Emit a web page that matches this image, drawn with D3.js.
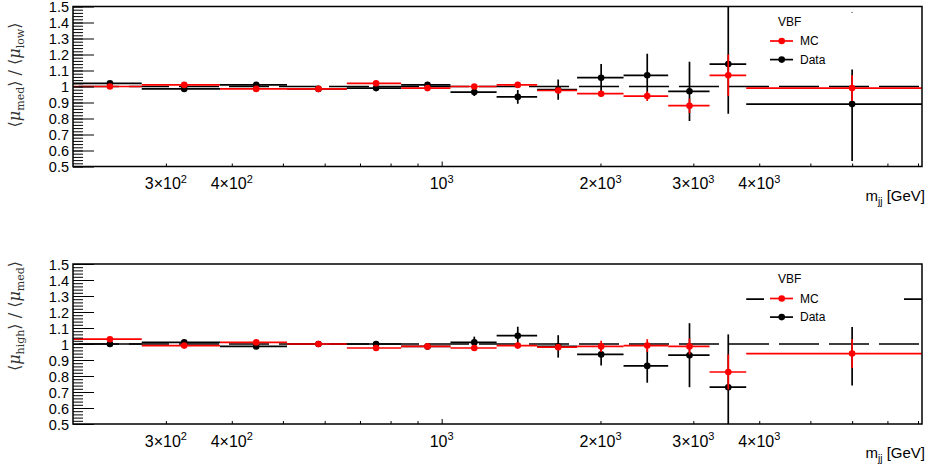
<!DOCTYPE html>
<html>
<head>
<meta charset="utf-8">
<script src="https://cdn.jsdelivr.net/npm/d3@7"></script>
<style>
  body { margin: 0; background: #fff; }
  text { font-family: "Liberation Sans", Arial, sans-serif; }
</style>
</head>
<body>
<div id="chart"></div>
<script>
// m_jj bins [GeV]
const binLow = [200, 270, 380, 509, 661, 838, 1039, 1271, 1517, 1806, 2212, 2688, 3220, 3779];
const binHigh = [270, 380, 509, 661, 838, 1039, 1271, 1517, 1806, 2212, 2688, 3220, 3779, 8140];
const binMean = [235, 325, 445, 584, 751, 940, 1153, 1394, 1663, 2006, 2453, 2950, 3494, 6000];

// <mu_med> / <mu_low>
const mcMedLow = [1.0, 1.01, 0.985, 0.985, 1.02, 0.99, 1.0, 1.01, 0.975, 0.955, 0.94, 0.88, 1.07, 0.99];
const mcMedLowErr = [0.004, 0.005, 0.005, 0.006, 0.007, 0.008, 0.01, 0.012, 0.015, 0.02, 0.03, 0.045, 0.13, 0.08];
const dataMedLow = [1.02, 0.985, 1.01, 0.985, 0.99, 1.01, 0.965, 0.935, 0.98, 1.055, 1.07, 0.97, 1.14, 0.89];
const dataMedLowErrDown = [0.006, 0.007, 0.008, 0.01, 0.012, 0.016, 0.025, 0.043, 0.063, 0.085, 0.135, 0.185, 0.31, 0.355];
const dataMedLowErrUp = [0.006, 0.007, 0.008, 0.01, 0.012, 0.016, 0.025, 0.043, 0.063, 0.085, 0.135, 0.185, 0.4, 0.575];

// <mu_high> / <mu_med>
const mcHighMed = [1.03, 0.99, 1.01, 1.0, 0.975, 0.985, 0.975, 0.99, 0.98, 0.985, 0.99, 0.985, 0.825, 0.94];
const mcHighMedErr = [0.004, 0.005, 0.005, 0.006, 0.007, 0.008, 0.01, 0.012, 0.015, 0.035, 0.04, 0.05, 0.11, 0.09];
const dataHighMed = [1.0, 1.01, 0.985, 1.0, 1.0, 0.985, 1.01, 1.052, 0.985, 0.935, 0.863, 0.93, 0.73, 1.28];
const dataHighMedErrDown = [0.005, 0.006, 0.008, 0.01, 0.012, 0.02, 0.036, 0.056, 0.07, 0.07, 0.105, 0.2, 0.33, 0.54];
const dataHighMedErrUp = [0.005, 0.006, 0.008, 0.01, 0.012, 0.02, 0.036, 0.056, 0.07, 0.07, 0.105, 0.2, 0.33, 0.15];

// axis ticks
const xMinorTicks = [300, 400, 500, 600, 700, 800, 900, 2000, 3000, 4000, 5000, 6000, 7000, 8000];
const xMajorTicks = [1000];
const xLabelValues = [300, 400, 1000, 2000, 3000, 4000];
const xLabelMantissa = ["3×", "4×", "", "2×", "3×", "4×"];
const xLabelExponent = ["2", "2", "3", "3", "3", "3"];
const yMajorTicks = [0.5, 0.6, 0.7, 0.8, 0.9, 1.0, 1.1, 1.2, 1.3, 1.4, 1.5];
const yTickLabels = ["0.5", "0.6", "0.7", "0.8", "0.9", "1", "1.1", "1.2", "1.3", "1.4", "1.5"];
const yMinorTicks = d3.range(0, 51).map((i) => 0.5 + i * 0.02);

const legendLabels = ["MC", "Data"];
const legendColors = ["#ff0000", "#000000"];

const width = 928;
const height = 473;
const left = 73;
const right = 922;

const panels = [
  {
    top: 6.5, bottom: 166.5,
    mc: mcMedLow, mcErr: mcMedLowErr,
    data: dataMedLow, dataDown: dataMedLowErrDown, dataUp: dataMedLowErrUp,
    num: "med", den: "low", titleY: 75,
  },
  {
    top: 264, bottom: 424,
    mc: mcHighMed, mcErr: mcHighMedErr,
    data: dataHighMed, dataDown: dataHighMedErrDown, dataUp: dataHighMedErrUp,
    num: "high", den: "med", titleY: 316,
  },
];

const svg = d3
  .select("#chart")
  .append("svg")
  .attr("width", width)
  .attr("height", height);

const x = d3.scaleLog().domain([200, 8140]).range([left, right]);

panels.forEach((p, k) => {
  const y = d3.scaleLinear().domain([0.5, 1.5]).range([p.bottom, p.top]);
  const g = svg.append("g");

  g.append("clipPath")
    .attr("id", "clip" + k)
    .append("rect")
    .attr("x", left)
    .attr("y", p.top)
    .attr("width", right - left)
    .attr("height", p.bottom - p.top);

  const plot = g.append("g").attr("clip-path", `url(#clip${k})`);

  // reference line at 1
  plot
    .append("line")
    .attr("x1", left)
    .attr("x2", right)
    .attr("y1", y(1))
    .attr("y2", y(1))
    .attr("stroke", "#000")
    .attr("stroke-width", 1.5)
    .attr("stroke-dasharray", "40,10")
    .attr("stroke-dashoffset", 44);

  const drawSeries = (vals, down, up, color) => {
    const s = plot.append("g").attr("stroke", color).attr("stroke-width", 1.7);
    s.selectAll("line.h")
      .data(vals)
      .enter()
      .append("line")
      .attr("class", "h")
      .attr("x1", (d, i) => x(binLow[i]))
      .attr("x2", (d, i) => x(binHigh[i]))
      .attr("y1", (d) => y(d))
      .attr("y2", (d) => y(d));
    s.selectAll("line.v")
      .data(vals)
      .enter()
      .append("line")
      .attr("class", "v")
      .attr("x1", (d, i) => x(binMean[i]))
      .attr("x2", (d, i) => x(binMean[i]))
      .attr("y1", (d, i) => y(d - down[i]))
      .attr("y2", (d, i) => y(d + up[i]));
    s.selectAll("circle")
      .data(vals)
      .enter()
      .append("circle")
      .attr("cx", (d, i) => x(binMean[i]))
      .attr("cy", (d) => y(d))
      .attr("r", 3.3)
      .attr("stroke", "none")
      .attr("fill", color);
  };

  drawSeries(p.data, p.dataDown, p.dataUp, "#000000");
  drawSeries(p.mc, p.mcErr, p.mcErr, "#ff0000");

  // legend
  const lg = g.append("g");
  lg.append("rect")
    .attr("x", 764)
    .attr("y", p.top + 6)
    .attr("width", 140)
    .attr("height", 57)
    .attr("fill", "#fff");
  lg.append("text")
    .attr("x", 778)
    .attr("y", p.top + 19)
    .attr("font-size", 12)
    .text("VBF");
  legendLabels.forEach((lab, i) => {
    const ly = p.top + 34.5 + i * 18.6;
    lg.append("line")
      .attr("x1", 770)
      .attr("x2", 793)
      .attr("y1", ly)
      .attr("y2", ly)
      .attr("stroke", legendColors[i])
      .attr("stroke-width", 1.7);
    lg.append("circle")
      .attr("cx", 781.7)
      .attr("cy", ly)
      .attr("r", 3.3)
      .attr("fill", legendColors[i]);
    lg.append("text")
      .attr("x", 800)
      .attr("y", ly + 4)
      .attr("font-size", 12)
      .text(lab);
  });

  // frame
  g.append("rect")
    .attr("x", left)
    .attr("y", p.top)
    .attr("width", right - left)
    .attr("height", p.bottom - p.top)
    .attr("fill", "none")
    .attr("stroke", "#000")
    .attr("stroke-width", 1.5);

  // y axis
  const yMinor = g
    .append("g")
    .attr("transform", `translate(${left},0)`)
    .call(d3.axisLeft(y).tickValues(yMinorTicks).tickSize(-10).tickFormat(""));
  yMinor.select(".domain").remove();

  const yMajor = g
    .append("g")
    .attr("transform", `translate(${left},0)`)
    .call(
      d3.axisLeft(y)
        .tickValues(yMajorTicks)
        .tickSize(-21)
        .tickPadding(4)
        .tickFormat((d, i) => yTickLabels[i])
    );
  yMajor.select(".domain").remove();
  yMajor.selectAll("text")
    .attr("font-size", 14.5)
    .attr("fill", "#000")
    .attr("dy", "0.36em")
    .style("font-family", "Liberation Sans, Arial, sans-serif");
  g.selectAll(".tick line").attr("stroke", "#000").attr("stroke-width", 1);

  // x axis
  const xMinor = g
    .append("g")
    .attr("transform", `translate(0,${p.bottom})`)
    .call(d3.axisBottom(x).tickValues(xMinorTicks).tickSize(-3).tickFormat(""));
  xMinor.select(".domain").remove();
  const xMajor = g
    .append("g")
    .attr("transform", `translate(0,${p.bottom})`)
    .call(d3.axisBottom(x).tickValues(xMajorTicks).tickSize(-5).tickFormat(""));
  xMajor.select(".domain").remove();
  g.selectAll(".tick line").attr("stroke", "#000").attr("stroke-width", 1);

  xLabelValues.forEach((v, i) => {
    const t = g
      .append("text")
      .attr("x", x(v))
      .attr("y", p.bottom + 22.5)
      .attr("text-anchor", "middle")
      .attr("font-size", 16);
    t.append("tspan").text(xLabelMantissa[i] + "10");
    t.append("tspan")
      .attr("dy", -6.5)
      .attr("font-size", 11)
      .text(xLabelExponent[i]);
  });

  // x title
  const xt = g
    .append("text")
    .attr("x", 925)
    .attr("y", p.bottom + 34)
    .attr("text-anchor", "end")
    .attr("font-size", 15);
  xt.append("tspan").text("m");
  xt.append("tspan").attr("dy", 4).attr("font-size", 10).text("jj");
  xt.append("tspan").attr("dy", -4).text(" [GeV]");

  // y title
  const yt = g
    .append("text")
    .attr("transform", `translate(20,${p.titleY}) rotate(-90)`)
    .attr("text-anchor", "middle")
    .attr("fill", "#333")
    .attr("font-size", 16)
    .style("font-family", "DejaVu Serif, Liberation Serif, serif");
  yt.append("tspan").text("⟨");
  yt.append("tspan").attr("font-style", "italic").text("μ");
  yt.append("tspan").attr("dy", 4).attr("font-size", 11).text(p.num);
  yt.append("tspan").attr("dy", -4).text("⟩ / ⟨");
  yt.append("tspan").attr("font-style", "italic").text("μ");
  yt.append("tspan").attr("dy", 4).attr("font-size", 11).text(p.den);
  yt.append("tspan").attr("dy", -4).text("⟩");
});
</script>
</body>
</html>
